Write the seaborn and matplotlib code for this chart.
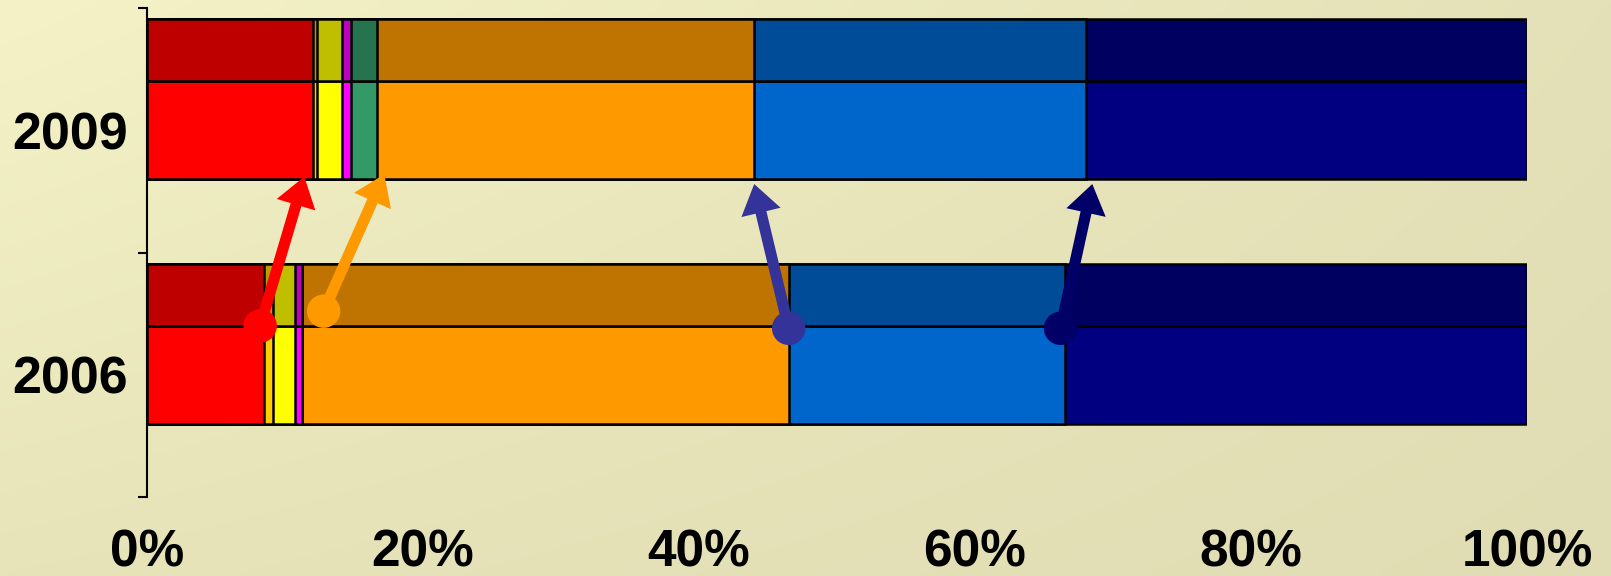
import numpy as np
import pandas as pd
import matplotlib
matplotlib.use("Agg")
import matplotlib.pyplot as plt
import seaborn as sns
from matplotlib.patches import FancyArrowPatch

# ---- data -------------------------------------------------------------
years = ["2006", "2009"]
segments = ["red", "gold", "yellow", "magenta", "green", "orange", "blue", "navy"]
share_2006 = [8.5, 0.6, 1.6, 0.5, 0.0, 35.3, 20.0, 33.5]
share_2009 = [12.0, 0.35, 1.75, 0.65, 1.95, 27.3, 24.05, 31.95]
front_colors = ["#FF0000", "#FFCC00", "#FFFF00", "#FF00FF",
                "#339966", "#FF9900", "#0066CC", "#000080"]
top_colors = ["#BF0000", "#BF9900", "#BFBF00", "#BF00BF",
              "#267350", "#BF7300", "#004C99", "#000060"]
x_ticks = [0, 20, 40, 60, 80, 100]
x_tick_labels = ["0%", "20%", "40%", "60%", "80%", "100%"]

# arrows showing how the boundaries moved between the two years
arrow_start_x = [8.2, 12.8, 46.5, 66.2]
arrow_start_y = [0.70, 0.76, 0.69, 0.69]
arrow_end_x = [11.4, 17.2, 44.0, 68.5]
arrow_end_y = [1.31, 1.32, 1.28, 1.28]
arrow_colors = ["#FF0000", "#FF9900", "#333399", "#000066"]

# ---- figure -----------------------------------------------------------
W, H = 1611, 576
fig = plt.figure(figsize=(W / 100, H / 100), dpi=100)

# soft yellow gradient backdrop
bg = fig.add_axes([0, 0, 1, 1], zorder=-10)
bg.axis("off")
tl = np.array([0xF4, 0xF2, 0xC6]) / 255
tr = np.array([0xE4, 0xE1, 0xB8]) / 255
bl = np.array([0xE7, 0xE4, 0xBA]) / 255
br = np.array([0xE0, 0xDC, 0xB3]) / 255
u = np.linspace(0, 1, 200)[None, :, None]
v = np.linspace(0, 1, 80)[:, None, None]
grad = (tl * (1 - u) * (1 - v) + tr * u * (1 - v) + bl * (1 - u) * v + br * u * v)
bg.imshow(grad, aspect="auto", extent=[0, 1, 0, 1], interpolation="bicubic")
bg.set_xlim(0, 1)
bg.set_ylim(0, 1)

ax = fig.add_axes([147 / W, 1 - 497 / H, 1380 / W, 489 / H])
ax.set_facecolor("none")

front_h = 0.40          # height of the front face of each bar
top_h = 0.254           # depth of the shaded top face
centers = np.array([0.5, 1.5])

shares = np.array([share_2006, share_2009])
cum = np.cumsum(shares, axis=1)

# stacked bars: draw cumulative totals from the longest down so each
# shorter bar sits on top of the previous one
for i in reversed(range(len(segments))):
    sns.barplot(x=cum[:, i], y=centers, orient="y", native_scale=True,
                width=front_h, color=front_colors[i], saturation=1,
                edgecolor="black", linewidth=1.8, errorbar=None, ax=ax,
                zorder=2)
    sns.barplot(x=cum[:, i], y=centers + front_h / 2 + top_h / 2,
                orient="y", native_scale=True, width=top_h,
                color=top_colors[i], saturation=1, edgecolor="black",
                linewidth=1.8, errorbar=None, ax=ax, zorder=2)

# arrows
for x0, y0, x1, y1, c in zip(arrow_start_x, arrow_start_y,
                             arrow_end_x, arrow_end_y, arrow_colors):
    arr = FancyArrowPatch((x0, y0), (x1, y1),
                          arrowstyle="simple,head_length=21,head_width=29,tail_width=8",
                          mutation_scale=1, color=c, lw=0,
                          shrinkA=0, shrinkB=0, zorder=3, clip_on=False)
    ax.add_patch(arr)

dots = pd.DataFrame({"x": arrow_start_x, "y": arrow_start_y,
                     "c": [str(k) for k in range(len(arrow_colors))]})
sns.scatterplot(data=dots, x="x", y="y", hue="c", palette=arrow_colors,
                s=580, linewidth=0, legend=False, ax=ax, zorder=4,
                clip_on=False)

# ---- axes styling -----------------------------------------------------
ax.set_xlim(0, 100)
ax.set_ylim(0, 2)
ax.set_xlabel("")
ax.set_ylabel("")
for side in ["top", "right", "bottom"]:
    ax.spines[side].set_visible(False)
ax.spines["left"].set_linewidth(1.5)
ax.spines["left"].set_color("black")

ax.set_yticks([0, 1, 2])
ax.set_yticklabels([])
ax.tick_params(axis="y", which="major", length=6.5, width=1.5,
               direction="out", color="black")
ax.set_yticks(centers, minor=True)
ax.set_yticklabels(years, minor=True, fontsize=37.5, fontweight="bold",
                   family=["Liberation Sans", "DejaVu Sans"])
ax.tick_params(axis="y", which="minor", length=0, pad=14)

ax.set_xticks(x_ticks)
ax.set_xticklabels(x_tick_labels, fontsize=37, fontweight="bold",
                   family=["Liberation Sans", "DejaVu Sans"])
ax.tick_params(axis="x", length=0, pad=23)

fig.savefig("out.png", dpi=100)
